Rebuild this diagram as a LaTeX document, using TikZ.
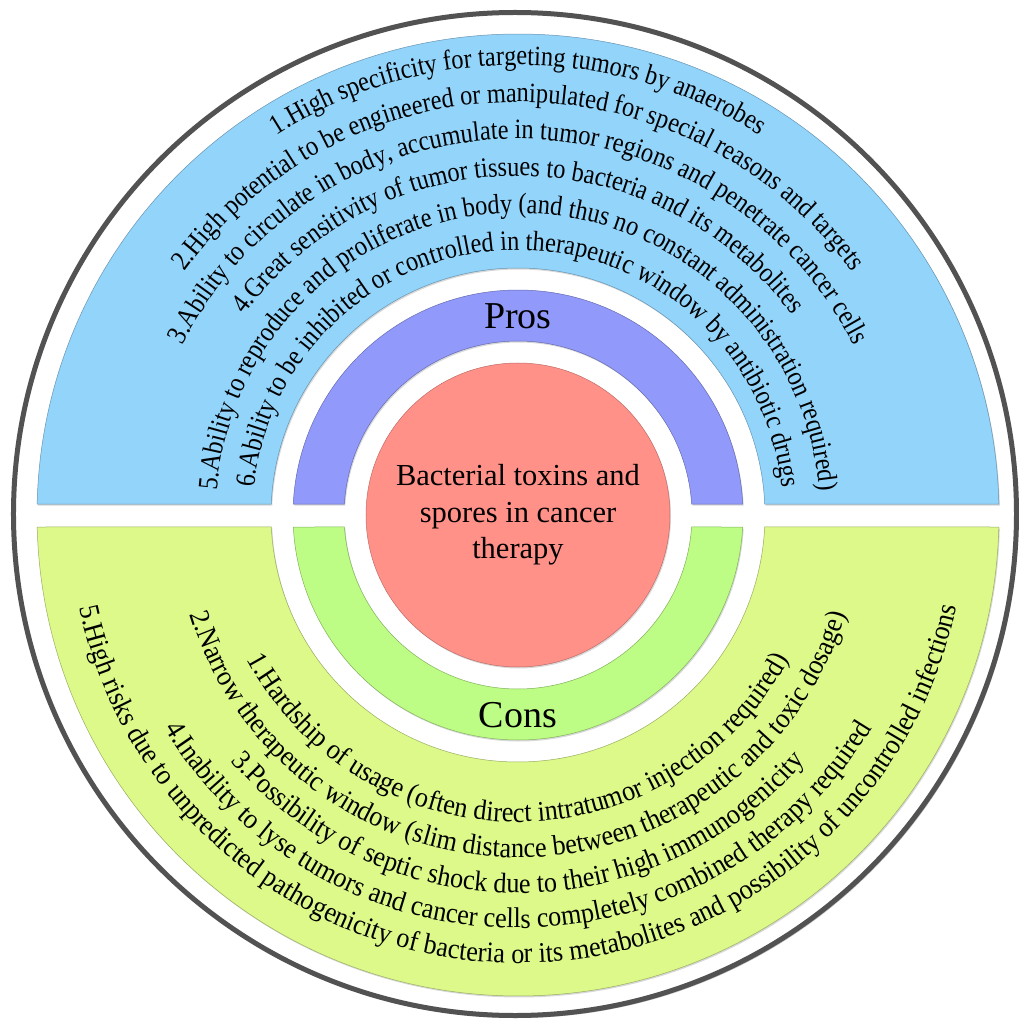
\documentclass[tikz,border=0pt]{standalone}
\usepackage{fontspec}
\setmainfont{Liberation Serif}
\newfontfamily\toparcfam[FakeStretch=0.87]{Liberation Serif}
\newfontfamily\botarcfam[FakeStretch=0.92]{Liberation Serif}
\usetikzlibrary{decorations.text,shadows}
\definecolor{skyb}{HTML}{93D4FB}
\definecolor{lilac}{HTML}{9199FB}
\definecolor{salm}{HTML}{FF9189}
\definecolor{limeg}{HTML}{BDFD85}
\definecolor{paleg}{HTML}{DCF98A}
\newcommand\topfont{\toparcfam\fontsize{28}{32}\selectfont}
\newcommand\botfont{\botarcfam\fontsize{28.5}{32}\selectfont}
\newcommand\toparc[2]{\path[decorate,decoration={text along path,text align=center,text={|\topfont|#2}}] (180:#1) arc[start angle=180,end angle=0,radius=#1];}
\newcommand\botarc[2]{\path[decorate,decoration={text along path,text align=center,text={|\botfont|#2}}] (180:#1) arc[start angle=180,end angle=360,radius=#1];}
\begin{document}
\begin{tikzpicture}[x=1pt,y=1pt,
  band/.style={fill=#1,draw=#1!70!black,line width=0.5pt,drop shadow={shadow xshift=1pt,shadow yshift=-1.5pt,opacity=0.3}},
  label/.style={font=\fontsize{38}{44}\selectfont,anchor=base}]
\useasboundingbox (-518,-505) rectangle (501,515);
\fill[white] (-518,-505) rectangle (501,515);
% outer rim
\node (rim) [circle,minimum size=1003,inner sep=0,fill=white,draw=black!68,line width=5pt,
  drop shadow={shadow xshift=2pt,shadow yshift=-2.5pt,opacity=0.5}] at (-3,1) {};
% outer blue half ring
\path[band=skyb] (1.31:481) arc[start angle=1.31,end angle=178.69,radius=481]
  -- (177.45:247) arc[start angle=177.45,end angle=2.55,radius=247] -- cycle;
% outer green half ring
\path[band=paleg] (-1.43:481) arc[start angle=-1.43,end angle=-178.57,radius=481]
  -- (-177.22:247) arc[start angle=-177.22,end angle=-2.78,radius=247] -- cycle;
% inner purple half ring
\path[band=lilac] (2.80:225) arc[start angle=2.80,end angle=177.20,radius=225]
  -- (176.38:174) arc[start angle=176.38,end angle=3.62,radius=174] -- cycle;
% inner green half ring
\path[band=limeg] (-3.06:225) arc[start angle=-3.06,end angle=-176.94,radius=225]
  -- (-176.05:174) arc[start angle=-176.05,end angle=-3.95,radius=174] -- cycle;
% centre
\node (core) [circle,minimum size=304,inner sep=0,fill=salm,draw=salm!75!black,line width=0.5pt,
  drop shadow={shadow xshift=1pt,shadow yshift=-1.5pt,opacity=0.3},
  align=center,font=\fontsize{30.5}{36.5}\selectfont] at (0,0) {Bacterial toxins and\\spores in cancer\\therapy};
\node (pros) [label] at (0,186) {Pros};
\node (cons) [label] at (0,-212) {Cons};
% pros text
\toparc{450}{1.High specificity for targeting tumors by anaerobes}
\toparc{413}{2.High potential to be engineered or manipulated for special reasons and targets}
\toparc{376}{3.Ability to circulate in body, accumulate in tumor regions and penetrate cancer cells}
\toparc{339}{4.Great sensitivity of tumor tissues to bacteria and its metabolites}
\toparc{302}{5.Ability to reproduce and proliferate in body (and thus no constant administration required)}
\toparc{265}{6.Ability to be inhibited or controlled in therapeutic window by antibiotic drugs}
% cons text
\botarc{307}{1.Hardship of usage (often direct intratumor injection required)}
\botarc{342.5}{2.Narrow therapeutic window (slim distance between therapeutic and toxic dosage)}
\botarc{378}{3.Possibility of septic shock due to their high immunogenicity}
\botarc{413}{4.Inability to lyse tumors and cancer cells completely combined therapy required}
\botarc{448}{5.High risks due to unpredicted pathogenicity of bacteria or its metabolites and possibility of uncontrolled infections}
\end{tikzpicture}
\end{document}
